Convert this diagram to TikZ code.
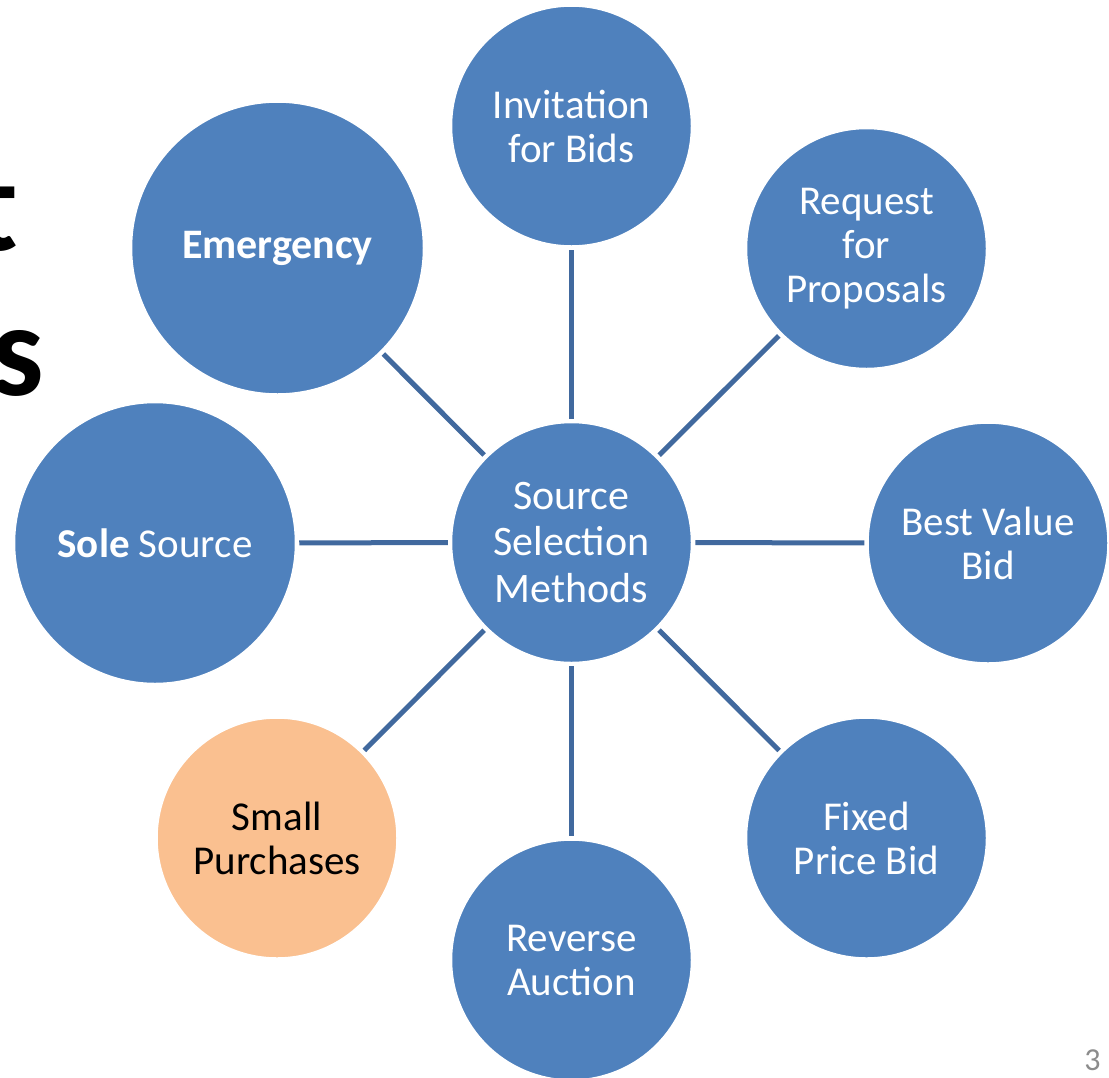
\documentclass[tikz,border=0pt]{standalone}
\usepackage{fontspec}
\setmainfont{Carlito}
\usepackage{xcolor}
\definecolor{bleu}{HTML}{4F81BD}
\definecolor{peche}{HTML}{FAC090}
\definecolor{trait}{HTML}{41699E}
\definecolor{gris}{HTML}{8C8C8C}

\begin{document}
\begin{tikzpicture}[x=1pt,y=-1pt,
    rond/.style={circle,fill=bleu,draw=white,line width=1.5pt,inner sep=0pt,
      minimum size=240pt,text=white,align=center,
      font=\fontsize{41}{44}\selectfont},
    lien/.style={draw=trait,line width=5pt,shorten <=3pt,shorten >=3pt}]
      \useasboundingbox (0,0) rectangle (1109,1077);
      \clip (0,0) rectangle (1109,1077);

      % Titre (coupe)
      \node[anchor=base east,font=\bfseries\fontsize{132}{132}\selectfont] (titreT) at (22,250) {t};
      \node[anchor=base east,font=\bfseries\fontsize{132}{132}\selectfont] (titreS) at (48,395) {s};

      % Cercles
      \node[rond,font=\fontsize{42}{46.5}\selectfont] (centre) at (571.5,542.5) {Source\\Selection\\Methods};
      \node[rond] (ifb) at (571.5,126) {Invitation\\for Bids};
      \node[rond] (rfp) at (866.5,248.5) {Request\\for\\Proposals};
      \node[rond] (bvb) at (988,543) {Best Value\\Bid};
      \node[rond] (fpb) at (866.5,838) {Fixed\\Price Bid};
      \node[rond] (ra) at (571.5,960) {Reverse\\Auction};
      \node[rond,fill=peche,text=black] (sp) at (277,838) {Small\\Purchases};
      \node[rond,minimum size=281pt] (ss) at (155,543) {{\bfseries Sole} Source};
      \node[rond,minimum size=292pt,font=\bfseries\fontsize{42}{46}\selectfont] (em) at (277.5,248) {Emergency};

      % Liens
      \foreach \n in {ifb,rfp,bvb,fpb,ra,sp,ss,em}
        \draw[lien] (centre) -- (\n);

      % Numero
      \node[anchor=base east,text=gris,font=\fontsize{32}{32}\selectfont] (num) at (1104,1070) {3};
    \end{tikzpicture}
\end{document}
